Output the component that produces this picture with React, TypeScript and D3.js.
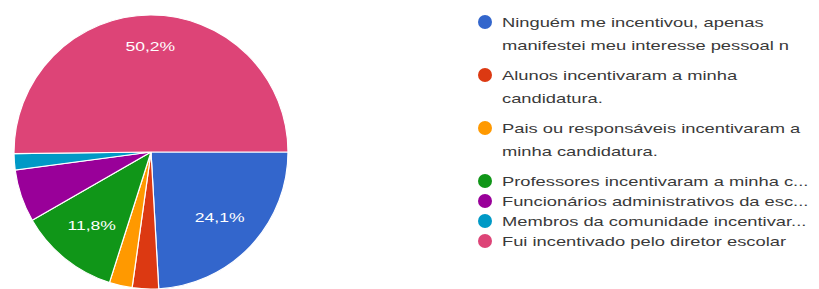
import React from 'react'
import * as d3 from 'd3'

// answers, in the order the slices are drawn (clockwise from 3 o'clock)
const categories = [
  'Ninguém me incentivou, apenas manifestei meu interesse pessoal n',
  'Alunos incentivaram a minha candidatura.',
  'Pais ou responsáveis incentivaram a minha candidatura.',
  'Professores incentivaram a minha c...',
  'Funcionários administrativos da esc...',
  'Membros da comunidade incentivar...',
  'Fui incentivado pelo diretor escolar'
]
const legendLines = [
  ['Ninguém me incentivou, apenas', 'manifestei meu interesse pessoal n'],
  ['Alunos incentivaram a minha', 'candidatura.'],
  ['Pais ou responsáveis incentivaram a', 'minha candidatura.'],
  ['Professores incentivaram a minha c...'],
  ['Funcionários administrativos da esc...'],
  ['Membros da comunidade incentivar...'],
  ['Fui incentivado pelo diretor escolar']
]
const percents = [24.1, 3.1, 2.7, 11.8, 6.2, 1.9, 50.2]
const colors = ['#3366cc', '#dc3912', '#ff9900', '#109618', '#990099', '#0099c6', '#dd4477']

const width = 819
const height = 289
const cx = 151
const cy = 152
const radius = 137

const fmt = (v: number) => v.toFixed(1).replace('.', ',') + '%'

export default function App () {
  const pie = d3.pie<number>()
    .sort(null)
    .value(d => d)
    .startAngle(Math.PI / 2)
    .endAngle(Math.PI / 2 + 2 * Math.PI)
  const arcs = pie(percents)

  const arc = d3.arc<d3.PieArcDatum<number>>()
    .innerRadius(0)
    .outerRadius(radius)

  const labelPos = (d: d3.PieArcDatum<number>) => {
    const k = d.endAngle - d.startAngle > Math.PI ? 0.77 : 0.69
    return d3.arc<d3.PieArcDatum<number>>()
      .innerRadius(radius * k)
      .outerRadius(radius * k)
      .centroid(d)
  }

  // legend rows
  const rows: { i: number, y: number }[] = []
  let y = 22
  legendLines.forEach((lines, i) => {
    rows.push({ i, y })
    y += lines.length > 1 ? lines.length * 23 + 7 : 20
  })

  return (
    <svg width={width} height={height}
      style={{ position: 'absolute', left: 0, top: 0, background: '#fff' }}
      fontFamily='Arial, "Liberation Sans", sans-serif'>
      <g transform={`translate(${cx},${cy})`}>
        {arcs.map((d, i) => (
          <path key={categories[i]} d={arc(d) || ''} fill={colors[i]}
            stroke='#fff' strokeWidth={1.2} />
        ))}
        {arcs.filter(d => d.value >= 10).map(d => {
          const [x, yy] = labelPos(d)
          return (
            <text key={d.index} transform={`translate(${x},${yy}) scale(1.3,1)`}
              textAnchor='middle' dy='0.35em' fontSize={13.5} fill='#fff'>
              {fmt(d.value)}
            </text>
          )
        })}
      </g>
      <g>
        {rows.map(({ i, y }) => (
          <g key={categories[i]}>
            <circle cx={485} cy={y} r={7} fill={colors[i]} />
            {legendLines[i].map((line, j) => (
              <text key={j} transform={`translate(502,${y + j * 23}) scale(1.41,1)`}
                dy='0.35em' fontSize={13} fill='#3a3a3a'>
                {line}
              </text>
            ))}
          </g>
        ))}
      </g>
    </svg>
  )
}
